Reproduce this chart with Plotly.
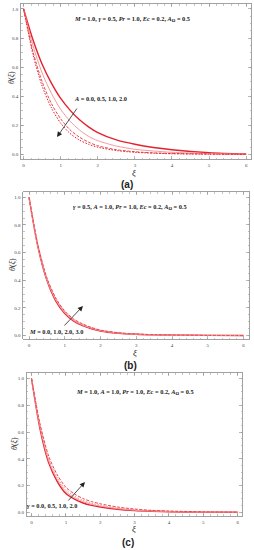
import plotly.graph_objects as go

xi = [0, 0.25, 0.5, 0.75, 1.0, 1.25, 1.5, 1.75, 2.0, 2.5, 3.0, 3.5, 4.0, 5.0, 6.0]

# Panel (a): A = 0.0, 0.5, 1.0, 2.0
a_A00 = [1, 0.79, 0.62, 0.49, 0.385, 0.305, 0.24, 0.19, 0.15, 0.10, 0.07, 0.048, 0.033, 0.013, 0.003]
a_A05 = [1, 0.75, 0.56, 0.42, 0.31, 0.23, 0.17, 0.125, 0.095, 0.058, 0.036, 0.024, 0.015, 0.006, 0.002]
a_A10 = [1, 0.71, 0.50, 0.35, 0.245, 0.17, 0.12, 0.085, 0.06, 0.033, 0.019, 0.011, 0.007, 0.003, 0.001]
a_A20 = [1, 0.69, 0.47, 0.32, 0.215, 0.145, 0.10, 0.07, 0.05, 0.027, 0.015, 0.009, 0.005, 0.002, 0.001]

# Panel (b): M = 0.0, 1.0, 2.0, 3.0
b_M0 = [1, 0.64, 0.40, 0.25, 0.160, 0.105, 0.072, 0.050, 0.034, 0.018, 0.010, 0.006, 0.004, 0.002, 0.001]
b_M1 = [1, 0.645, 0.405, 0.257, 0.165, 0.109, 0.076, 0.053, 0.036, 0.019, 0.011, 0.006, 0.004, 0.002, 0.001]
b_M2 = [1, 0.65, 0.41, 0.264, 0.171, 0.114, 0.080, 0.056, 0.038, 0.020, 0.011, 0.007, 0.004, 0.002, 0.001]
b_M3 = [1, 0.655, 0.418, 0.272, 0.178, 0.120, 0.085, 0.059, 0.040, 0.021, 0.012, 0.007, 0.005, 0.002, 0.001]

# Panel (c): gamma = 0.0, 0.5, 1.0, 2.0
c_g00 = [1, 0.62, 0.37, 0.23, 0.140, 0.098, 0.070, 0.052, 0.040, 0.023, 0.013, 0.008, 0.005, 0.002, 0.001]
c_g05 = [1, 0.635, 0.385, 0.245, 0.155, 0.110, 0.080, 0.060, 0.047, 0.028, 0.016, 0.010, 0.006, 0.003, 0.001]
c_g10 = [1, 0.645, 0.40, 0.26, 0.170, 0.122, 0.090, 0.068, 0.054, 0.033, 0.020, 0.012, 0.008, 0.003, 0.001]
c_g20 = [1, 0.66, 0.42, 0.28, 0.187, 0.137, 0.103, 0.080, 0.064, 0.040, 0.025, 0.015, 0.010, 0.004, 0.001]

x_ticks = [0, 1, 2, 3, 4, 5, 6]
y_ticks = [0.0, 0.2, 0.4, 0.6, 0.8, 1.0]
y_ticklabels = ["0.0", "0.2", "0.4", "0.6", "0.8", "1.0"]

RED = "#e4222c"
PINK = "#f29a9e"
RED2 = "#e8474f"

styles = [
    dict(color=RED, width=1.4, dash="solid"),
    dict(color=PINK, width=1.0, dash="solid"),
    dict(color=RED2, width=1.0, dash="3px,1.5px"),
    dict(color=RED, width=1.0, dash="1.5px,1.5px"),
]

fig = go.Figure()

panels = [
    ("x", "y", [a_A00, a_A05, a_A10, a_A20], [styles[0], styles[1], styles[2], styles[3]]),
    ("x2", "y2", [b_M0, b_M1, b_M2, b_M3], [styles[0], styles[1], styles[1], styles[2]]),
    ("x3", "y3", [c_g00, c_g05, c_g10, c_g20],
     [styles[0], styles[1], dict(color=PINK, width=1.0, dash="1.5px,1.5px"), styles[2]]),
]

for xa, ya, series, sts in panels:
    for vals, st in zip(series, sts):
        fig.add_trace(go.Scatter(
            x=xi, y=vals, mode="lines", xaxis=xa, yaxis=ya,
            line=dict(color=st["color"], width=st["width"], dash=st["dash"],
                      shape="spline", smoothing=0.8),
            showlegend=False, hoverinfo="skip"))

W, H = 254, 550

def px_dom_x(l, r):
    return [l / W, r / W]

def px_dom_y(top, bottom):
    return [1 - bottom / H, 1 - top / H]

frames = [
    dict(xd=px_dom_x(21, 251), yd=px_dom_y(4, 159), xr=[-0.07, 6.13], yr=[-0.031, 1.034]),
    dict(xd=px_dom_x(23.3, 249.3), yd=px_dom_y(192, 339), xr=[-0.16, 6.16], yr=[-0.024, 1.038]),
    dict(xd=px_dom_x(26.7, 242), yd=px_dom_y(373, 515.7), xr=[-0.14, 6.125], yr=[-0.025, 1.041]),
]

AX_COL = "#8a8a8a"
tickfont = dict(family="Liberation Serif", size=5, color="#444")

layout = dict(
    width=W, height=H,
    margin=dict(l=0, r=0, t=0, b=0),
    paper_bgcolor="white", plot_bgcolor="white",
    showlegend=False,
)
for i, f in enumerate(frames):
    sx = "" if i == 0 else str(i + 1)
    layout["xaxis" + sx] = dict(
        domain=f["xd"], range=f["xr"], anchor="y" + sx,
        tickvals=x_ticks, ticktext=[str(v) for v in x_ticks],
        ticks="inside", ticklen=3, tickwidth=0.6, tickcolor=AX_COL,
        minor=dict(ticks="inside", ticklen=1.5, tickwidth=0.5, tickcolor=AX_COL, dtick=0.2),
        showline=True, linecolor=AX_COL, linewidth=0.8, mirror="allticks",
        showgrid=False, zeroline=False, tickfont=tickfont, ticklabelstandoff=1,
    )
    layout["yaxis" + sx] = dict(
        domain=f["yd"], range=f["yr"], anchor="x" + sx,
        tickvals=y_ticks, ticktext=y_ticklabels,
        ticks="inside", ticklen=3, tickwidth=0.6, tickcolor=AX_COL,
        minor=dict(ticks="inside", ticklen=1.5, tickwidth=0.5, tickcolor=AX_COL, dtick=0.05),
        showline=True, linecolor=AX_COL, linewidth=0.8, mirror="allticks",
        showgrid=False, zeroline=False, tickfont=tickfont, ticklabelstandoff=1,
    )

fig.update_layout(**layout)

serif = "Liberation Serif"
ann = []

def txt(x, y, s, size=6.3, color="#222", family=serif, angle=0):
    ann.append(dict(x=x / W, y=1 - y / H, xref="paper", yref="paper", text=s,
                    showarrow=False, xanchor="center", yanchor="middle",
                    font=dict(family=family, size=size, color=color), textangle=angle))

def arrow(x0, y0, x1, y1):
    ann.append(dict(x=x1 / W, y=1 - y1 / H, ax=x0 - x1, ay=y0 - y1,
                    xref="paper", yref="paper", axref="pixel", ayref="pixel",
                    text="", showarrow=True, arrowhead=2, arrowsize=1.3,
                    arrowwidth=0.8, arrowcolor="#222"))

# Panel (a)
txt(132, 19, "<b><i>M</i> = 1.0, <i>γ</i> = 0.5, <i>Pr</i> = 1.0, <i>Ec</i> = 0.2, <i>A</i><sub>Ω</sub> = 0.5</b>")
txt(100, 98.5, "<b><i>A</i> = 0.0, 0.5, 1.0, 2.0</b>")
arrow(78, 107, 57, 137)
txt(11, 78, "<i>θ</i>(<i>ξ</i>)", size=8, angle=-90)
txt(134, 172.5, "<i>ξ</i>", size=9)
txt(127, 184.5, "<b>(a)</b>", size=10, family="Liberation Sans")

# Panel (b)
txt(130, 207.5, "<b><i>γ</i> = 0.5, <i>A</i> = 1.0, <i>Pr</i> = 1.0, <i>Ec</i> = 0.2, <i>A</i><sub>Ω</sub> = 0.5</b>")
txt(56, 331.5, "<b><i>M</i> = 0.0, 1.0, 2.0, 3.0</b>")
arrow(63, 327, 83, 306)
txt(12, 265, "<i>θ</i>(<i>ξ</i>)", size=8, angle=-90)
txt(135, 352.5, "<i>ξ</i>", size=9)
txt(130, 365, "<b>(b)</b>", size=10, family="Liberation Sans")

# Panel (c)
txt(135, 391.5, "<b><i>M</i> = 1.0, <i>A</i> = 1.0, <i>Pr</i> = 1.0, <i>Ec</i> = 0.2, <i>A</i><sub>Ω</sub> = 0.5</b>")
txt(52, 505.5, "<b><i>γ</i> = 0.0, 0.5, 1.0, 2.0</b>")
arrow(67, 502, 85, 482)
txt(14, 444, "<i>θ</i>(<i>ξ</i>)", size=8, angle=-90)
txt(134, 529, "<i>ξ</i>", size=9)
txt(128, 542.5, "<b>(c)</b>", size=10, family="Liberation Sans")

fig.update_layout(annotations=ann)
fig.write_html("out.html", config={"displayModeBar": False, "staticPlot": True})

# remove the browser's default body margin so the figure sits at the page origin
with open("out.html", "r", encoding="utf-8") as fh:
    html = fh.read()
html = html.replace("<body>", '<body style="margin:0;padding:0;overflow:hidden">', 1)
with open("out.html", "w", encoding="utf-8") as fh:
    fh.write(html)
